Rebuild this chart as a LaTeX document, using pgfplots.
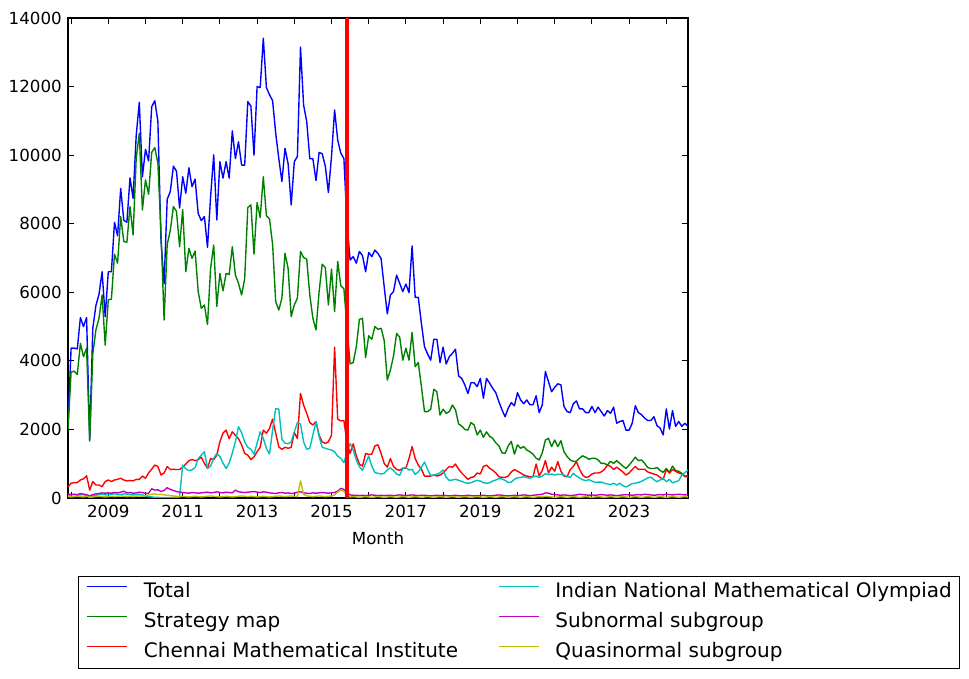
\documentclass[border=0pt]{standalone}
\usepackage{fontspec}
\setmainfont{DejaVu Sans}
\usepackage{pgfplots}
\pgfplotsset{compat=1.18}
\usepackage{pgfplotstable}

\definecolor{mblue}{rgb}{0,0,1}
\definecolor{mgreen}{rgb}{0,0.5,0}
\definecolor{mred}{rgb}{1,0,0}
\definecolor{mcyan}{rgb}{0,0.75,0.75}
\definecolor{mmag}{rgb}{0.75,0,0.75}
\definecolor{myel}{rgb}{0.75,0.75,0}

% k = month index (0 = Dec 2007)
\pgfplotstableread{
k T S C I Sub Q
0 2100 2000 330 80 120 40
1 4370 3670 430 90 100 30
2 4370 3700 450 100 110 40
3 4350 3600 450 80 100 50
4 5260 4510 525 90 130 40
5 5000 4120 560 100 110 30
6 5260 4370 650 60 100 50
7 1690 1660 230 30 60 20
8 4950 4200 480 60 100 30
9 5610 4900 380 80 120 40
10 5940 5240 380 100 130 50
11 6600 5920 330 110 150 40
12 5290 4460 480 90 140 30
13 6600 5780 525 100 150 40
14 6600 5800 480 110 140 50
15 8040 7110 525 120 160 40
16 7650 6850 545 110 150 50
17 9030 8210 575 100 170 60
18 8100 7480 525 120 200 50
19 8040 7460 500 110 150 40
20 9340 8500 510 100 160 50
21 8740 7670 500 90 140 40
22 10570 9910 545 100 150 50
23 11540 10640 545 110 170 60
24 9370 8400 640 90 160 50
25 10170 9280 575 60 130 70
26 9830 8860 730 40 140 90
27 11410 10080 840 30 270 110
28 11590 10220 960 20 230 120
29 10980 9760 920 20 240 100
30 7500 7770 670 10 190 110
31 6250 5190 730 10 220 90
32 8710 7400 920 10 300 80
33 8940 7800 830 10 250 70
34 9680 8500 840 15 220 60
35 9530 8360 830 20 190 50
36 8460 7330 830 30 170 40
37 9370 8410 900 960 160 50
38 8890 6600 990 850 150 40
39 9630 7280 1090 800 140 30
40 9080 6990 1120 820 160 40
41 9300 7200 1090 890 150 50
42 8300 6020 1120 1150 140 40
43 8090 5530 1190 1250 150 30
44 8210 5630 1010 1350 160 40
45 7310 5060 870 860 170 50
46 8790 6700 1150 930 150 60
47 10010 7380 1120 1160 160 50
48 8110 5590 1250 1300 180 40
49 9810 6550 1640 1210 160 30
50 9330 6040 1890 1020 150 40
51 9810 6550 1980 860 170 50
52 9330 6520 1730 1020 160 40
53 10710 7330 1930 1310 150 30
54 9900 6500 1830 1640 230 40
55 10390 6260 1730 2080 180 50
56 9710 5920 1550 1900 170 60
57 9710 6400 1300 1640 160 50
58 11560 8470 1250 1480 170 40
59 11430 8550 1120 1420 180 50
60 10000 7110 1200 1280 190 40
61 12000 8620 1350 1600 170 30
62 11970 8180 1480 1930 160 40
63 13410 9370 1980 1740 180 50
64 11970 8230 1890 1450 170 40
65 11760 8140 2030 1280 150 30
66 11590 7400 2300 1980 140 40
67 10640 5730 1890 2610 130 50
68 9900 5480 1490 2590 150 60
69 9230 5830 1420 1710 160 50
70 10200 7140 1480 1600 140 40
71 9750 6700 1450 1580 150 50
72 8550 5290 1480 1640 130 60
73 9810 5630 1910 1930 140 50
74 9960 5830 1730 2200 170 40
75 13150 7190 3050 2160 180 500
76 11460 7010 2710 1640 150 110
77 10980 6970 2470 1420 140 60
78 9900 5920 2200 1450 130 50
79 9890 5240 2130 1840 150 40
80 9260 4900 2230 2230 140 50
81 10080 6020 1830 1790 150 60
82 10040 6820 1640 1480 160 50
83 9680 6720 1590 1450 150 40
84 8910 5630 1640 1420 140 50
85 9960 6680 1830 1400 150 60
86 11320 5440 4400 1350 160 90
87 10440 6900 2300 1220 200 170
88 10060 6190 2250 1160 280 230
89 9900 6100 2260 1030 250 200
90 8000 5000 1600 1320 150 70
91 6940 3910 1300 1590 90 30
92 7040 3950 1580 1400 80 40
93 6850 4410 1230 1110 80 30
94 7190 5210 990 910 70 20
95 7070 5240 930 810 80 30
96 6600 4100 1300 1020 70 40
97 7160 4730 1270 1220 80 30
98 7040 4630 1280 930 90 20
99 7230 5000 1520 740 80 30
100 7130 4920 1550 720 70 40
101 6980 4950 1300 700 80 30
102 6160 4590 1010 720 70 20
103 5370 3440 900 815 80 30
104 5920 3730 1150 880 80 40
105 6020 4140 920 800 70 30
106 6500 4800 830 700 80 20
107 6260 4690 810 660 90 30
108 6020 4020 870 865 80 40
109 6240 4370 870 895 70 30
110 5990 4020 1150 815 80 20
111 7350 4830 1500 835 90 30
112 5850 3830 1150 690 80 40
113 5850 3950 960 760 70 30
114 5090 3250 840 895 80 20
115 4410 2520 640 1050 80 30
116 4200 2520 640 835 70 40
117 4020 2590 640 660 60 30
118 4630 3170 670 670 70 20
119 4630 3100 640 690 80 30
120 3950 2420 670 740 70 40
121 4400 2590 730 815 80 30
122 3910 2470 830 600 70 20
123 4120 2520 920 515 60 30
124 4220 2710 900 525 70 40
125 4340 2570 990 545 80 30
126 3560 2160 840 515 70 20
127 3490 2100 730 485 60 30
128 3300 2000 640 445 70 40
129 3050 1980 545 430 80 30
130 3360 2200 600 445 70 20
131 3360 2130 620 485 60 30
132 3250 1840 730 515 70 40
133 3490 1980 700 495 70 30
134 2910 1770 920 445 80 20
135 3490 1930 960 430 70 30
136 3350 1800 870 445 60 40
137 3200 1740 810 495 70 30
138 3070 1610 730 525 80 20
139 2810 1520 620 565 90 30
140 2570 1320 600 555 80 40
141 2370 1300 600 515 70 30
142 2620 1520 640 455 60 20
143 2780 1650 760 465 70 30
144 2690 1280 830 545 80 40
145 3070 1550 780 590 70 30
146 2860 1450 730 600 80 20
147 2750 1500 670 620 90 30
148 2860 1400 640 600 80 40
149 2720 1350 620 575 70 30
150 2720 1280 620 620 80 20
151 2980 1160 990 640 90 30
152 2490 1110 640 600 100 40
153 2720 1320 810 640 110 30
154 3690 1690 1090 710 150 50
155 3390 1740 730 680 140 40
156 3100 1500 900 700 110 30
157 3230 1690 780 670 100 20
158 3330 1500 1060 690 90 30
159 3300 1670 780 690 80 40
160 2670 1350 640 670 90 30
161 2520 1210 620 630 80 20
162 2490 1110 830 600 70 30
163 2750 1070 920 720 80 40
164 2830 1070 1060 640 90 30
165 2600 1160 840 585 110 20
166 2600 1230 670 535 100 30
167 2490 1190 600 505 90 40
168 2490 1130 620 535 80 30
169 2670 1160 700 495 90 20
170 2490 1160 730 455 80 30
171 2650 1110 730 465 90 40
172 2520 1010 760 465 100 30
173 2390 1010 830 430 90 20
174 2550 960 960 410 80 30
175 2470 1070 920 390 90 40
176 2650 1010 830 430 80 30
177 2180 1090 900 380 70 20
178 2230 1010 830 430 80 30
179 2260 930 760 360 90 40
180 1980 860 670 320 100 30
181 1980 960 730 370 90 20
182 2180 1070 830 420 80 30
183 2690 1190 920 430 90 40
184 2490 1090 830 455 100 30
185 2430 1110 840 485 90 20
186 2330 1010 840 535 110 30
187 2260 890 760 585 100 40
188 2260 860 730 610 90 30
189 2370 860 700 535 80 20
190 2110 890 670 475 90 30
191 2040 800 600 525 100 40
192 1840 750 545 575 90 30
193 2600 860 830 475 110 20
194 2010 750 730 545 100 30
195 2550 930 830 440 90 40
196 2090 800 780 475 100 30
197 2230 780 730 505 110 20
198 2090 720 700 670 100 30
199 2180 620 640 740 90 40
200 2090 670 600 815 100 30
}\data

\begin{document}
\begin{tikzpicture}
\useasboundingbox (-48.96pt,-130.32pt) rectangle (648.72pt,358.56pt);
\begin{axis}[
  at={(0pt,0pt)}, anchor=south west,
  scale only axis, width=446.4pt, height=345.6pt,
  xmin=0, xmax=200, ymin=0, ymax=14000,
  xtick={1,13,...,193},
  xticklabels={,2009,,2011,,2013,,2015,,2017,,2019,,2021,,2023,},
  ytick={0,2000,...,14000},
  scaled y ticks=false,
  /pgf/number format/1000 sep={},
  /pgf/number format/assume math mode=true,
  tick align=inside,
  major tick length=4pt,
  axis line style={line width=1pt},
  every tick/.style={line width=0.8pt, black},
  ticklabel style={font=\fontsize{12}{14}\selectfont},
  yticklabel style={inner sep=0pt, xshift=-4.3pt},
  xticklabel style={inner sep=0pt, yshift=-5pt},
  xlabel={Month},
  xlabel style={font=\fontsize{12}{14}\selectfont, at={(axis description cs:0.5,-0.0833)}, anchor=center, inner sep=0pt},
  no markers,
  every axis plot/.append style={line width=1pt, line join=round},
  legend columns=2,
  legend style={at={(axis description cs:0.01613,-0.1625)}, anchor=north west,
    draw=black, line width=0.8pt,
    font=\fontsize{14.4}{17}\selectfont,
    inner xsep=5.76pt, inner ysep=4.32pt,
    row sep=7.2pt,
    nodes={inner sep=0pt, text height=10.8pt, text depth=3.6pt},
    /tikz/every odd column/.style={column sep=11.52pt},
    /tikz/every even column/.style={column sep=28.8pt},
    cells={anchor=west}},
  legend image code/.code={\draw[#1] (0pt,4.5pt) -- (28.8pt,4.5pt);},
]
\addplot[mblue, forget plot] table[x=k, y=T]{\data};
\addplot[mgreen, forget plot] table[x=k, y=S]{\data};
\addplot[mred, forget plot] table[x=k, y=C]{\data};
\addplot[mcyan, forget plot] table[x=k, y=I]{\data};
\addplot[mmag, forget plot] table[x=k, y=Sub]{\data};
\addplot[myel, forget plot] table[x=k, y=Q]{\data};
\addplot[mred, line width=2.5pt, forget plot] coordinates {(90,0) (90,14000)};

\addlegendimage{mblue, line width=1pt}
\addlegendentry{Total}
\addlegendimage{mcyan, line width=1pt}
\addlegendentry{Indian National Mathematical Olympiad}
\addlegendimage{mgreen, line width=1pt}
\addlegendentry{Strategy map}
\addlegendimage{mmag, line width=1pt}
\addlegendentry{Subnormal subgroup}
\addlegendimage{mred, line width=1pt}
\addlegendentry{Chennai Mathematical Institute}
\addlegendimage{myel, line width=1pt}
\addlegendentry{Quasinormal subgroup}
\end{axis}
\end{tikzpicture}
\end{document}
